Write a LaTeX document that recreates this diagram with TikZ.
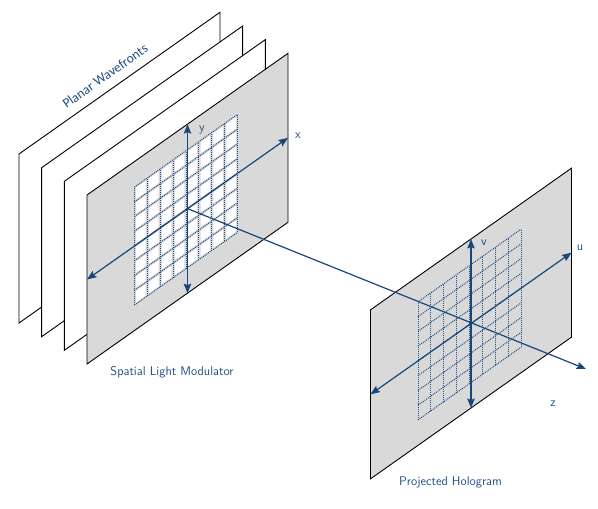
\documentclass[tikz,border=0pt]{standalone}
\usepackage{fontspec}
\newfontfamily\carlito{Carlito}
\usetikzlibrary{arrows.meta}
\definecolor{axblue}{RGB}{25,70,120}
\definecolor{gridblue}{RGB}{35,80,135}
\definecolor{txtblue}{RGB}{35,78,130}
\definecolor{planegray}{RGB}{217,217,217}
\begin{document}
\begin{tikzpicture}[x=1pt,y=-1pt,
  font=\sffamily\fontsize{12.6}{15}\selectfont,
  planebox/.style={draw=black,line width=0.9pt,line join=miter},
  axisline/.style={draw=axblue,line width=1.2pt,{Stealth[length=9.5pt,width=7.5pt,inset=1.5pt]}-{Stealth[length=9.5pt,width=7.5pt,inset=1.5pt]}},
  zline/.style={draw=axblue,line width=1.2pt,-{Stealth[length=9.5pt,width=7.5pt,inset=1.5pt]}},
  gridline/.style={draw=gridblue,line width=1pt,dash pattern=on 1pt off 1pt},
  lbl/.style={text=txtblue,inner sep=0pt},
  planeaxes/.style={x={(1pt,0.705pt)},y={(0pt,1pt)}}]

\useasboundingbox (0,0) rectangle (598,509);

% back wavefront planes
\foreach \cx/\cy [count=\k] in {119.5/167.65, 142.17/181.32, 164.83/194.98}{
  \begin{scope}[shift={(\cx,\cy)},planeaxes]
    \path[planebox,fill=white] (-100.5,-84.5) -- (100.5,-84.5) -- (100.5,84.5) -- (-100.5,84.5) -- cycle;
  \end{scope}
}

% SLM plane
\begin{scope}[shift={(187.5,208.65)},planeaxes]
  \path[planebox,fill=planegray] (-100.5,-84.5) -- (100.5,-84.5) -- (100.5,84.5) -- (-100.5,84.5) -- cycle;
  % white cells
  \foreach \i in {0,...,7}{
    \foreach \j in {0,...,7}{
      \pgfmathsetmacro\xa{-53+\i*12.875+1.7}
      \pgfmathsetmacro\xb{-53+(\i+1)*12.875-1.7}
      \pgfmathsetmacro\ya{-59+\j*14.75+1.7}
      \pgfmathsetmacro\yb{-59+(\j+1)*14.75-1.7}
      \fill[white] (\xa,\ya) -- (\xb,\ya) -- (\xb,\yb) -- (\xa,\yb) -- cycle;
    }
  }
  \foreach \i in {0,...,8}{
    \pgfmathsetmacro\xg{-53+\i*12.875}
    \draw[gridline] (\xg,-59) -- (\xg,59);
  }
  \foreach \j in {0,...,8}{
    \pgfmathsetmacro\yg{-59+\j*14.75}
    \draw[gridline] (-53,\yg) -- (50,\yg);
  }
  \coordinate (so) at (0,0);
  \coordinate (sxl) at (-100.5,0);
  \coordinate (sxr) at (100.5,0);
  \coordinate (syb) at (0,-84.5);
  \coordinate (syt) at (0,84.5);
  \draw[axisline] (sxl) -- (sxr);
  \draw[axisline] (syb) -- (syt);
\end{scope}

% hologram plane
\begin{scope}[shift={(471,323.5)},planeaxes]
  \path[planebox,fill=planegray] (-100.5,-84.5) -- (100.5,-84.5) -- (100.5,84.5) -- (-100.5,84.5) -- cycle;
  \foreach \i in {0,...,8}{
    \pgfmathsetmacro\xg{-53+\i*12.875}
    \draw[gridline] (\xg,-59) -- (\xg,59);
  }
  \foreach \j in {0,...,8}{
    \pgfmathsetmacro\yg{-59+\j*14.75}
    \draw[gridline] (-53,\yg) -- (50,\yg);
  }
  \coordinate (ho) at (0,0);
  \coordinate (hul) at (-100.5,0);
  \coordinate (hur) at (100.5,0);
  \coordinate (hvb) at (0,-84.5);
  \coordinate (hvt) at (0,84.5);
  \draw[axisline] (hul) -- (hur);
  \draw[axisline] (hvb) -- (hvt);
\end{scope}

% z axis
\coordinate (zend) at (586,369);
\draw[zline] (so) -- (zend);

% labels
\node[lbl] (lx) at (298,136) {x};
\node[lbl] (ly) at (202,130) {y};
\node[lbl] (lu) at (580,248) {u};
\node[lbl] (lv) at (484,243) {v};
\node[lbl] (lz) at (553,404) {z};
\node[lbl,rotate=35.2,font=\carlito\fontsize{13.5}{16}\selectfont] (lpw) at (105,76) {Planar Wavefronts};
\node[lbl] (lslm) at (172,372) {Spatial Light Modulator};
\node[lbl] (lph) at (450.5,482) {Projected Hologram};
\end{tikzpicture}
\end{document}
